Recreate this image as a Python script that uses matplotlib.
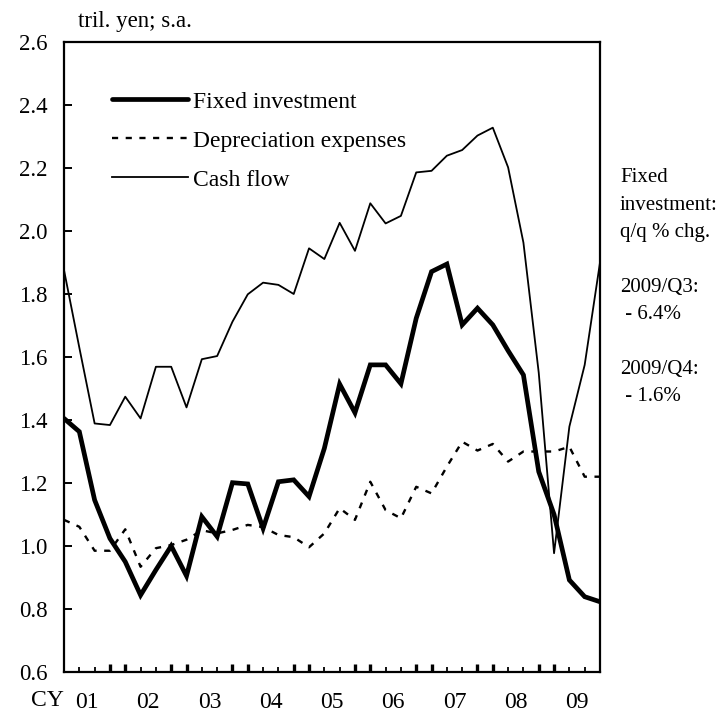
import matplotlib
matplotlib.use("Agg")
import matplotlib.pyplot as plt
import matplotlib.transforms as mtransforms

plt.rcParams['font.family'] = ['Liberation Serif', 'DejaVu Serif']

# quarterly, 2001/Q1 .. 2009/Q4, tril. yen
fixed_investment = [1.405, 1.363, 1.146, 1.024, 0.950, 0.844, 0.924, 1.000,
                    0.905, 1.093, 1.030, 1.201, 1.197, 1.056, 1.204, 1.210,
                    1.157, 1.310, 1.514, 1.423, 1.575, 1.575, 1.515, 1.723,
                    1.871, 1.895, 1.702, 1.755, 1.702, 1.620, 1.543, 1.236,
                    1.100, 0.892, 0.839, 0.823]
depreciation = [1.083, 1.061, 0.985, 0.985, 1.053, 0.934, 0.993, 1.003,
                1.020, 1.050, 1.040, 1.051, 1.067, 1.060, 1.035, 1.028,
                0.996, 1.040, 1.120, 1.083, 1.204, 1.114, 1.088, 1.188,
                1.167, 1.252, 1.331, 1.303, 1.324, 1.268, 1.300, 1.300,
                1.300, 1.315, 1.220, 1.220]
cash_flow = [1.876, 1.630, 1.389, 1.384, 1.474, 1.405, 1.569, 1.569,
             1.440, 1.593, 1.603, 1.712, 1.799, 1.836, 1.829, 1.800,
             1.945, 1.911, 2.026, 1.937, 2.088, 2.024, 2.048, 2.186,
             2.191, 2.239, 2.257, 2.303, 2.328, 2.202, 1.963, 1.550,
             0.977, 1.379, 1.575, 1.900]
years = ["01", "02", "03", "04", "05", "06", "07", "08", "09"]
y_ticks = [0.6, 0.8, 1.0, 1.2, 1.4, 1.6, 1.8, 2.0, 2.2, 2.4, 2.6]
note_lines = ["Fixed", "investment:", "q/q % chg.", "",
              "2009/Q3:", " - 6.4%", "", "2009/Q4:", " - 1.6%"]

x = list(range(len(fixed_investment)))

fig = plt.figure(figsize=(7.2, 7.15), dpi=100)
ax = fig.add_axes([64 / 720, 43 / 715, 536 / 720, 630 / 715])

ax.plot(x, fixed_investment, color="black", lw=3.4, label="Fixed investment",
        solid_capstyle="round", solid_joinstyle="miter")
ax.plot(x, depreciation, color="black", lw=1.7, ls=(0, (2.6, 3.2)),
        label="Depreciation expenses")
ax.plot(x, cash_flow, color="black", lw=1.3, label="Cash flow")

ax.set_xlim(0, len(x) - 1)
ax.set_ylim(0.6, 2.6)
ax.set_yticks(y_ticks)
ax.set_yticklabels([f"{v:.1f}" for v in y_ticks], fontsize=16.5)
ax.tick_params(axis="y", direction="in", length=6, width=1.4, pad=12,
               right=False)

# x ticks: thick pairs around year boundaries, thin ones mid-year
big = [i for i in x if i % 4 in (0, 3) and 0 < i < len(x) - 1]
small = [i for i in x if i % 4 in (1, 2)]
ax.set_xticks(big)
ax.set_xticks(small, minor=True)
ax.set_xticklabels([])
ax.tick_params(axis="x", which="major", direction="in", length=6, width=2.4)
ax.tick_params(axis="x", which="minor", direction="in", length=3.5, width=1.3)

for s in ax.spines.values():
    s.set_linewidth(1.6)

trans = mtransforms.blended_transform_factory(ax.transData, fig.transFigure)
for k, yr in enumerate(years):
    ax.text(4 * k + 1.5, 12 / 715, yr, transform=trans, ha="center",
            va="center", fontsize=17)
fig.text(47 / 720, 15 / 715, "CY", ha="center", va="center", fontsize=17)

fig.text(78 / 720, 693 / 715, "tril. yen; s.a.", ha="left", va="center",
         fontsize=16.5)

leg = ax.legend(loc="upper left", bbox_to_anchor=(48 / 536, 581 / 630),
                frameon=False, fontsize=17, handlelength=3.2,
                handletextpad=0.25, labelspacing=0.74, borderpad=0,
                borderaxespad=0)

for n, line in enumerate(note_lines):
    fig.text(620 / 720, (715 - 178 - 27.3 * n) / 715, line, ha="left",
             va="center", fontsize=15)

fig.savefig("out.png", dpi=100)
